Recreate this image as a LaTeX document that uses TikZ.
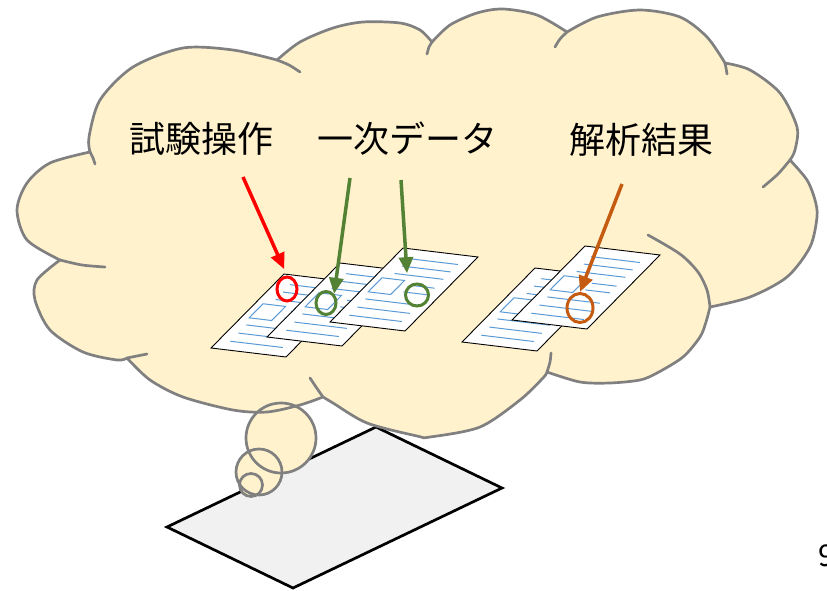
\documentclass[tikz,border=0pt]{standalone}
\usepackage{fontspec}
\newfontfamily\jpfont{Noto Sans CJK JP}
\usetikzlibrary{shapes.geometric,arrows.meta}

\definecolor{cloudfill}{RGB}{255,242,204}
\definecolor{cloudline}{RGB}{128,128,128}
\definecolor{linesblue}{RGB}{91,155,213}
\definecolor{datagreen}{RGB}{84,130,53}
\definecolor{resorange}{RGB}{197,90,17}
\definecolor{papergray}{RGB}{241,241,241}

% a data sheet lying flat, #1 = its lower left corner
\newcommand{\datasheet}[1]{
\begin{scope}[shift={#1}, x={(75pt,-9pt)}, y={(73pt,74pt)}]
\draw[fill=white, line width=0.9pt] (0,0) -- (1,0) -- (1,1) -- (0,1) -- cycle;
\foreach \v in {0.88,0.78,0.68} \draw[textline] (0.2,\v) -- (0.85,\v);
\draw[textline] (0.1,0.42) -- (0.4,0.42) -- (0.4,0.61) -- (0.1,0.61) -- cycle;
\foreach \v in {0.56,0.47} \draw[textline] (0.52,\v) -- (0.85,\v);
\foreach \v in {0.33,0.22,0.11} \draw[textline] (0.15,\v) -- (0.85,\v);
\end{scope}
}

\begin{document}
\begin{tikzpicture}[x=1pt, y=-1pt,
  cloud/.style={fill=cloudfill, draw=cloudline, line width=2.7pt, line join=round},
  cloudedge/.style={draw=cloudline, line width=2.7pt, line cap=round},
  textline/.style={draw=linesblue, line width=1pt},
  markring/.style={ellipse, draw, line width=3pt, inner sep=0pt},
  markarrow/.style={-{Triangle[length=16pt,width=14pt]}, line width=3.5pt},
  labeltext/.style={font=\jpfont\fontsize{36}{40}\selectfont, inner sep=0pt}]

\useasboundingbox (0,0) rectangle (827,591);

% the notebook page under the thought
\draw[fill=papergray, line width=2.7pt] (167,527) -- (293,588) -- (502,488) -- (376,427) -- cycle;

% thought bubbles (fill first, outlines later)
\fill[cloudfill] (281,438) circle (35);
\fill[cloudfill] (259,472) circle (23);
\fill[cloudfill] (251,485) circle (11.5);

% the cloud
\path[cloud]
  plot[smooth] coordinates {(60,260) (27,240) (17,210) (27,183) (50,163) (90,152)}
  -- plot[smooth] coordinates {(90,152) (89,137) (100,100) (133,67) (183,48) (233,50) (277,60)}
  -- plot[smooth] coordinates {(277,60) (300,42) (333,28) (363,22) (400,23) (420,30) (432,42)}
  -- plot[smooth] coordinates {(432,42) (450,25) (477,13) (503,9) (537,15) (567,32)}
  -- plot[smooth] coordinates {(567,32) (597,17) (640,10) (680,17) (707,37) (725,63)}
  -- plot[smooth] coordinates {(725,63) (750,70) (780,93) (797,127) (795,150) (790,160)}
  -- plot[smooth] coordinates {(790,160) (807,180) (815,200) (817,217) (810,247) (787,277) (750,297) (710,307)}
  -- plot[smooth] coordinates {(710,307) (706,322) (700,337) (683,357) (657,373) (640,380) (610,383) (580,382) (547,372)}
  -- plot[smooth] coordinates {(547,372) (543,378) (520,400) (480,427) (430,437) (417,436) (367,423) (333,403) (323,397)}
  -- plot[smooth] coordinates {(323,397) (300,405) (267,412) (233,410) (183,397) (150,380) (127,358)}
  -- plot[smooth] coordinates {(127,358) (117,360) (83,352) (50,330) (35,300) (37,280) (60,260)}
  -- cycle;

% inner arcs of the lobes
\draw[cloudedge] plot[smooth] coordinates {(60,260) (82,265) (105,267)};
\draw[cloudedge] plot[smooth] coordinates {(90,152) (93,158) (95,164)};
\draw[cloudedge] plot[smooth] coordinates {(277,60) (289,65) (300,72)};
\draw[cloudedge] plot[smooth] coordinates {(432,42) (429,47) (427,54)};
\draw[cloudedge] plot[smooth] coordinates {(567,32) (560,39) (555,47)};
\draw[cloudedge] plot[smooth] coordinates {(725,63) (726,68) (727,74)};
\draw[cloudedge] plot[smooth] coordinates {(790,160) (778,174) (763,187)};
\draw[cloudedge] plot[smooth] coordinates {(710,307) (707,290) (698,272) (680,254) (648,235)};
\draw[cloudedge] plot[smooth] coordinates {(547,372) (550,362) (551,353)};
\draw[cloudedge] plot[smooth] coordinates {(323,397) (316,387) (310,378)};
\draw[cloudedge] plot[smooth] coordinates {(127,358) (137,356) (147,354)};

\draw[cloudedge] (281,438) circle (35);
\draw[cloudedge] (259,472) circle (23);
\draw[cloudedge] (251,485) circle (11.5);

% sheets: log, raw data, results
\datasheet{(211,348)}
\datasheet{(267,337)}
\datasheet{(330,322)}
\datasheet{(462,342)}
\datasheet{(512,320)}

\node[markring, red, minimum width=20, minimum height=24] (opmark) at (287,289) {};
\node[markring, datagreen, minimum width=20, minimum height=23] (datamarkA) at (326,303) {};
\node[markring, datagreen, minimum width=23, minimum height=22] (datamarkB) at (417,295) {};
\node[markring, resorange, minimum width=26, minimum height=29] (resmark) at (580,308) {};

\node[labeltext] (oplabel) at (201,139) {試験操作};
\node[labeltext] (datalabel) at (407,139) {一次データ};
\node[labeltext] (reslabel) at (641,140) {解析結果};

\coordinate (opfrom) at (243,177);
\coordinate (datafromA) at (350,178);
\coordinate (datafromB) at (401,180);
\coordinate (resfrom) at (622,184);

\draw[markarrow, red, shorten >=7pt] (opfrom) -- (opmark.north);
\draw[markarrow, datagreen] (datafromA) -- (datamarkA.north east);
\draw[markarrow, datagreen, shorten >=13pt] (datafromB) -- (datamarkB.north west);
\draw[markarrow, resorange] (resfrom) -- (resmark.north);

\node[anchor=base west, inner sep=0pt, font=\jpfont\fontsize{30}{30}\selectfont] (pageno) at (818,566) {9};

\end{tikzpicture}
\end{document}
